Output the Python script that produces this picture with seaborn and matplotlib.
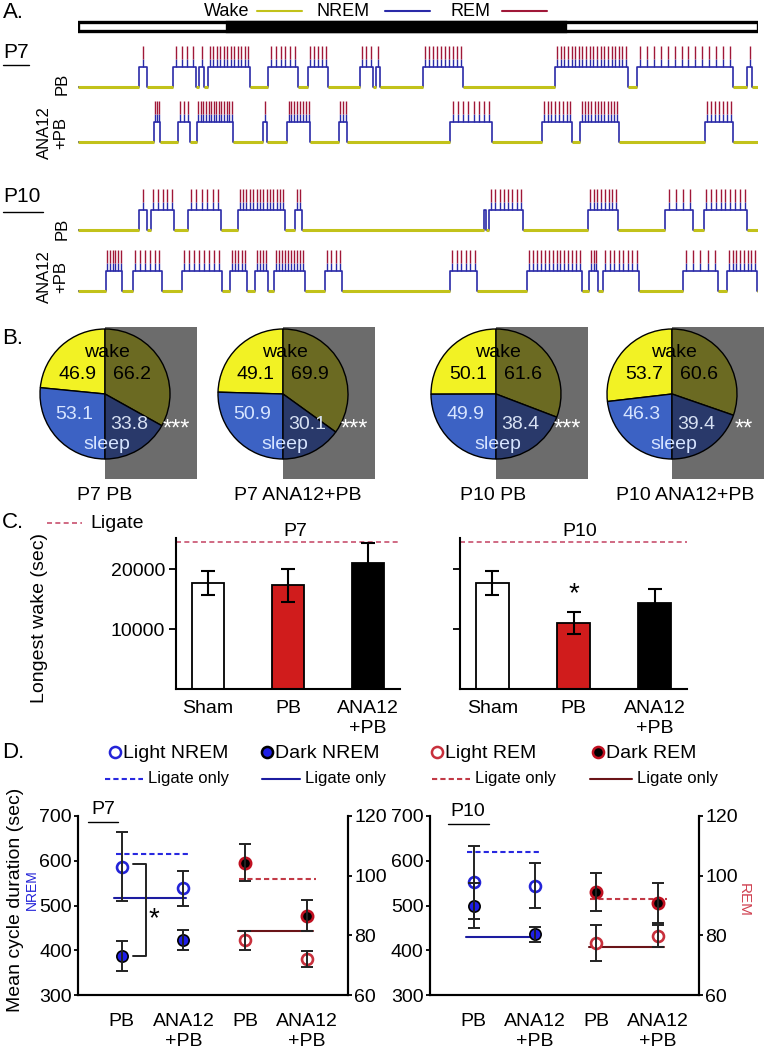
import numpy as np
import matplotlib.pyplot as plt
import seaborn as sns
from matplotlib.lines import Line2D
from matplotlib.patches import Rectangle

sns.set_style('white')
plt.rcParams['font.family'] = ['Liberation Sans', 'DejaVu Sans']
for k in ['text.color', 'axes.labelcolor', 'xtick.color', 'ytick.color', 'axes.edgecolor']:
    plt.rcParams[k] = 'black'

W, H = 764, 1050

# ---- A. hypnograms: sleep bouts (start h, end h, REM episodes in the bout)
p7_pb_bouts = [(2.15, 2.44, 1), (3.35, 4.16, 4), (4.27, 4.45, 1), (4.59, 6.07, 12),
               (6.71, 7.76, 6), (8.12, 8.82, 5), (9.95, 10.41, 3), (10.52, 10.66, 1),
               (12.18, 13.59, 10), (16.84, 19.41, 20), (19.73, 23.12, 14), (23.61, 23.79, 1)]
p7_ana_bouts = [(2.68, 2.89, 3), (3.53, 3.95, 3), (4.20, 5.47, 14), (6.53, 6.67, 1),
                (7.38, 8.19, 8), (9.21, 9.49, 3), (13.13, 14.61, 8), (16.38, 17.44, 8),
                (17.72, 19.09, 12), (22.13, 23.12, 7)]
p10_pb_bouts = [(2.15, 2.44, 1), (2.58, 3.39, 5), (3.88, 5.05, 6), (5.65, 7.31, 14),
                (7.66, 7.91, 2), (14.33, 14.40, 0), (14.51, 15.71, 8), (18.00, 19.06, 8),
                (20.72, 21.71, 4), (22.09, 23.61, 9)]
p10_ana_bouts = [(0.99, 1.55, 6), (1.94, 2.96, 6), (3.67, 5.08, 8), (5.36, 5.96, 5),
                 (6.25, 6.71, 4), (6.92, 8.01, 10), (8.72, 9.32, 4), (13.13, 14.08, 6),
                 (15.85, 17.79, 14), (18.04, 18.35, 3), (18.53, 19.80, 8), (21.35, 22.59, 5),
                 (22.91, 23.96, 8)]
dark_on, dark_off = 5.26, 17.2

# ---- B. % of time awake / asleep, light vs dark period
pie_titles = ['P7 PB', 'P7 ANA12+PB', 'P10 PB', 'P10 ANA12+PB']
wake_light = [46.9, 49.1, 50.1, 53.7]
sleep_light = [53.1, 50.9, 49.9, 46.3]
wake_dark = [66.2, 69.9, 61.6, 60.6]
sleep_dark = [33.8, 30.1, 38.4, 39.4]
pie_stars = ['***', '***', '***', '**']

# ---- C. longest wake bout (sec)
c_groups = ['Sham', 'PB', 'ANA12\n+PB']
c_p7_mean = [17700, 17300, 21000]
c_p7_err = [2000, 2800, 3300]
c_p10_mean = [17700, 11000, 14300]
c_p10_err = [2000, 1800, 2400]
c_ligate = 24500

# ---- D. mean cycle duration (sec), NREM left axis, REM right axis
d_labels = ['PB', 'ANA12\n+PB', 'PB', 'ANA12\n+PB']
p7_light_nrem, p7_light_nrem_err = [587, 538], [77, 40]
p7_dark_nrem, p7_dark_nrem_err = [387, 423], [34, 22]
p7_light_rem, p7_light_rem_err = [78.4, 72.0], [3.2, 2.6]
p7_dark_rem, p7_dark_rem_err = [104.3, 86.5], [6.2, 5.2]
p7_ligate = [615, 516, 98.8, 81.6]   # light NREM, dark NREM, light REM, dark REM
p10_light_nrem, p10_light_nrem_err = [552, 544], [82, 50]
p10_dark_nrem, p10_dark_nrem_err = [500, 436], [50, 17]
p10_light_rem, p10_light_rem_err = [77.4, 79.9], [6.0, 3.7]
p10_dark_rem, p10_dark_rem_err = [94.6, 90.9], [6.3, 6.7]
p10_ligate = [619, 430, 92.1, 76.2]

wake_c, nrem_c, rem_c = '#c2c21a', '#2a2aa8', '#a01838'

fig = plt.figure(figsize=(7.64, 10.5), dpi=100)


def px_box(x0, y0, x1, y1):
    return [x0 / W, 1 - y1 / H, (x1 - x0) / W, (y1 - y0) / H]


def ftext(x, y, s, **kw):
    kw.setdefault('fontsize', 14)
    kw.setdefault('va', 'center')
    fig.text(x / W, 1 - y / H, s, **kw)


def fline(x0, x1, y, **kw):
    fig.add_artist(Line2D([x0 / W, x1 / W], [1 - y / H] * 2, **kw))


# ================= A =================
axA = fig.add_axes(px_box(78, 0, 758, 300))
axA.set_xlim(0, 24)
axA.set_ylim(300, 0)
axA.axis('off')
axA.add_patch(Rectangle((0, 22), 24, 9, fc='white', ec='black', lw=2.4))
axA.add_patch(Rectangle((dark_on, 22), dark_off - dark_on, 9, fc='black', ec='black', lw=2.4))

for bouts, base in [(p7_pb_bouts, 87), (p7_ana_bouts, 142), (p10_pb_bouts, 230), (p10_ana_bouts, 291)]:
    nrem, rem = base - 20, base - 41
    xs, ys = [0], [base]
    for s, e, n in bouts:
        xs += [s, s, e, e]
        ys += [base, nrem, nrem, base]
    xs.append(24)
    ys.append(base)
    sns.lineplot(x=xs, y=ys, sort=False, estimator=None, color=nrem_c, lw=1.2, ax=axA)
    edges = [0] + [v for s, e, n in bouts for v in (s, e)] + [24]
    for a, b in zip(edges[0::2], edges[1::2]):
        axA.plot([a, b], [base, base], color=wake_c, lw=2.2, solid_capstyle='butt')
    for s, e, n in bouts:
        if n:
            t = s + (np.arange(n) + 0.5) * (e - s) / n
            axA.vlines(t, nrem, nrem - 8, color=nrem_c, lw=1)
            axA.vlines(t, nrem - 8, rem, color=rem_c, lw=1)

ftext(3, 13, 'A.', fontsize=16)
ftext(204, 11, 'Wake', fontsize=13)
fline(257, 302, 11, color=wake_c, lw=1.5)
ftext(317, 11, 'NREM', fontsize=13)
fline(385, 430, 11, color=nrem_c, lw=1.5)
ftext(450, 11, 'REM', fontsize=13)
fline(502, 547, 11, color=rem_c, lw=1.5)
ftext(3, 52, 'P7', fontsize=15)
fline(3, 29, 65, color='black', lw=1)
ftext(3, 197, 'P10', fontsize=15)
fline(3, 43, 212, color='black', lw=1)
for y0 in [84, 229]:
    ftext(62, y0, 'PB', fontsize=12, rotation=90, ha='center')
for y0 in [133, 277]:
    ftext(53, y0, 'ANA12\n+PB', fontsize=12, rotation=90, ha='center', linespacing=1.1)

# ================= B =================
R, cy = 65, 394
pie_cx = [105, 283, 496, 672]
pie_tx = [105, 298, 493, 685]
for i, cx in enumerate(pie_cx):
    ax = fig.add_axes(px_box(cx - 1.1 * R, cy - 1.1 * R, cx + 1.5 * R, cy + 1.35 * R))
    ax.add_patch(Rectangle((0, -1.31), 1.41, 2.34, fc='#6c6c6c', ec='none', zorder=0))
    wp = dict(edgecolor='black', linewidth=1)
    w1, _ = ax.pie([wake_light[i], sleep_light[i], 100], colors=['#f2f224', '#3c62c4', 'none'],
                   startangle=90, counterclock=True, wedgeprops=wp)
    w2, _ = ax.pie([wake_dark[i], sleep_dark[i], 100], colors=['#6b6a22', '#29396a', 'none'],
                   startangle=90, counterclock=False, wedgeprops=wp)
    w1[2].set_visible(False)
    w2[2].set_visible(False)
    ax.set_xlim(-1.1, 1.5)
    ax.set_ylim(-1.35, 1.1)
    ax.set_aspect('equal')
    ax.axis('off')
    tk = dict(ha='center', va='center', fontsize=14)
    ax.text(0.03, 0.64, 'wake', color='black', **tk)
    ax.text(-0.42, 0.30, f'{wake_light[i]:.1f}', color='black', **tk)
    ax.text(0.41, 0.30, f'{wake_dark[i]:.1f}', color='black', **tk)
    ax.text(-0.47, -0.31, f'{sleep_light[i]:.1f}', color='#d6e4ff', **tk)
    ax.text(0.37, -0.47, f'{sleep_dark[i]:.1f}', color='#d6e0f2', **tk)
    ax.text(0.03, -0.77, 'sleep', color='#d6e4ff', **tk)
    ax.text(1.1, -0.55, pie_stars[i], color='white', ha='center', va='center', fontsize=17)
    ftext(pie_tx[i], 496, pie_titles[i], ha='center')
ftext(2, 338, 'B.', fontsize=16)

# ================= C =================
bar_pal = dict(zip(c_groups, ['white', '#d01c1c', 'black']))
axC1 = fig.add_axes(px_box(176, 538, 400, 689))
axC2 = fig.add_axes(px_box(460, 538, 687, 689))
for ax, means, errs in [(axC1, c_p7_mean, c_p7_err), (axC2, c_p10_mean, c_p10_err)]:
    sns.barplot(x=c_groups, y=means, hue=c_groups, palette=bar_pal, legend=False, order=c_groups,
                width=0.4, saturation=1, edgecolor='black', linewidth=1.3, ax=ax)
    ax.errorbar(range(3), means, yerr=errs, fmt='none', ecolor='black', elinewidth=1.5,
                capsize=5, capthick=1.5, zorder=3)
    ax.axhline(c_ligate, color='#c8506e', ls=(0, (3, 2)), lw=1.2)
    ax.set_ylim(0, 25200)
    ax.set_xlim(-0.4, 2.4)
    ax.set_yticks([10000, 20000])
    ax.tick_params(axis='y', left=True, length=5, width=1.3, pad=3, labelsize=14)
    ax.tick_params(axis='x', length=0, pad=8, labelsize=14)
    for sp in ['top', 'right']:
        ax.spines[sp].set_visible(False)
    for sp in ['left', 'bottom']:
        ax.spines[sp].set_linewidth(1.5)
axC2.set_yticklabels([])
axC2.text(1, c_p10_mean[1] + c_p10_err[1] + 800, '*', ha='center', va='bottom', fontsize=20)
ftext(2, 523, 'C.', fontsize=16)
fline(47, 82, 523, color='#c8506e', ls=(0, (3, 2)), lw=1.2)
ftext(90, 523, 'Ligate')
ftext(295, 531, 'P7', ha='center')
ftext(580, 531, 'P10', ha='center')
ftext(40, 618, 'Longest wake (sec)', rotation=90, ha='center')

# ================= D =================
blue_l, blue_f, red_e = '#2323d8', '#1f1fe6', '#c8303c'
dash = (0, (2.5, 1.5))


def panel_d(box, ln, lne, dn, dne, lr, lre, dr, dre, lig):
    ax = fig.add_axes(box)
    ax2 = ax.twinx()
    xn, xr = np.array([0, 1]), np.array([2, 3])
    ax.plot([-0.1, 1.1], [lig[0]] * 2, color='#2828e0', ls=dash, lw=1.5)
    ax.plot([-0.12, 1.05], [lig[1]] * 2, color='#1c1ca0', lw=1.5)
    ax2.plot([1.9, 3.15], [lig[2]] * 2, color='#c23a46', ls=dash, lw=1.5)
    ax2.plot([1.88, 3.1], [lig[3]] * 2, color='#6a1418', lw=1.5)
    sns.scatterplot(x=xn, y=ln, color='white', edgecolor=blue_l, linewidth=1.9, s=62, ax=ax, zorder=3)
    sns.scatterplot(x=xn, y=dn, color=blue_f, edgecolor='black', linewidth=1.2, s=66, ax=ax, zorder=3)
    ax.errorbar(xn, ln, yerr=lne, fmt='none', ecolor='#222222', elinewidth=1.4, capsize=4, capthick=1.4, zorder=4)
    ax.errorbar(xn, dn, yerr=dne, fmt='none', ecolor='#222222', elinewidth=1.4, capsize=4, capthick=1.4, zorder=4)
    sns.scatterplot(x=xr, y=lr, color='white', edgecolor=red_e, linewidth=1.9, s=62, ax=ax2, zorder=3)
    sns.scatterplot(x=xr, y=dr, color='black', edgecolor='#c01020', linewidth=1.9, s=66, ax=ax2, zorder=3)
    ax2.errorbar(xr, lr, yerr=lre, fmt='none', ecolor='#222222', elinewidth=1.4, capsize=4, capthick=1.4, zorder=4)
    ax2.errorbar(xr, dr, yerr=dre, fmt='none', ecolor='#222222', elinewidth=1.4, capsize=4, capthick=1.4, zorder=4)
    ax.set_ylim(300, 700)
    ax2.set_ylim(60, 120)
    ax.set_xlim(-0.71, 3.67)
    ax.set_yticks([300, 400, 500, 600, 700])
    ax2.set_yticks([60, 80, 100, 120])
    ax.set_xticks(range(4))
    ax.set_xticklabels(d_labels)
    ax.tick_params(axis='x', length=0, pad=13, labelsize=14)
    ax.tick_params(axis='y', left=True, length=3, width=1.3, pad=1.5, labelsize=14)
    ax2.tick_params(axis='y', right=True, length=3, width=1.3, pad=1.5, labelsize=14)
    for a in (ax, ax2):
        a.spines['top'].set_visible(False)
        for sp in ['left', 'right', 'bottom']:
            a.spines[sp].set_linewidth(1.5)
    ax.set_ylabel('')
    ax2.set_ylabel('')
    return ax, ax2


axD1, axD1r = panel_d(px_box(78, 816, 348, 995), p7_light_nrem, p7_light_nrem_err, p7_dark_nrem,
                      p7_dark_nrem_err, p7_light_rem, p7_light_rem_err, p7_dark_rem, p7_dark_rem_err,
                      p7_ligate)
axD2, axD2r = panel_d(px_box(430, 816, 699, 995), p10_light_nrem, p10_light_nrem_err, p10_dark_nrem,
                      p10_dark_nrem_err, p10_light_rem, p10_light_rem_err, p10_dark_rem, p10_dark_rem_err,
                      p10_ligate)

# significance bracket, P7 light vs dark NREM after PB
axD1.plot([0.18, 0.4, 0.4, 0.18], [p7_light_nrem[0] + 6, p7_light_nrem[0] + 6, p7_dark_nrem[0], p7_dark_nrem[0]],
          color='#222222', lw=1.4)
axD1.text(0.52, 470, '*', ha='center', va='center', fontsize=20)

ftext(2, 753, 'D.', fontsize=16)
ftext(103, 810, 'P7', ha='center')
fline(88, 118, 822, color='black', lw=1)
ftext(468, 811, 'P10', ha='center')
fline(448, 489, 824, color='black', lw=1)
ftext(16, 900, 'Mean cycle duration (sec)', rotation=90, ha='center')
ftext(32, 890, 'NREM', rotation=90, ha='center', fontsize=10, color='#2323d8')
ftext(744, 900, 'REM', rotation=270, ha='center', fontsize=11, color='#d04050')

# legend of D
leg_marks = [(115, 'white', blue_l, 'Light NREM'), (267, blue_f, 'black', 'Dark NREM'),
             (437, 'white', red_e, 'Light REM'), (598, 'black', '#c01020', 'Dark REM')]
for x0, fc, ec, lab in leg_marks:
    fig.add_artist(Line2D([x0 / W], [1 - 752 / H], marker='o', ms=8, mfc=fc, mec=ec, mew=1.8, ls='none'))
    ftext(x0 + 8, 753, lab)
leg_lines = [(105, 143, '#2828e0', dash), (262, 300, '#1c1ca0', '-'),
             (432, 470, '#c23a46', dash), (590, 632, '#6a1418', '-')]
for x0, x1, col, ls in leg_lines:
    fline(x0, x1, 779, color=col, ls=ls, lw=1.5)
    ftext(x1 + 5, 779, 'Ligate only', fontsize=12)

fig.savefig('out.png', dpi=100)
